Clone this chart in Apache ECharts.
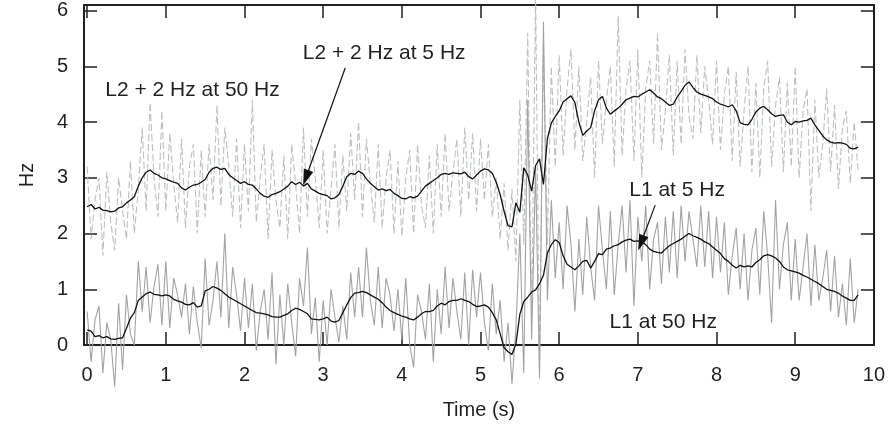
<!DOCTYPE html>
<html><head><meta charset="utf-8">
<script src="https://cdn.jsdelivr.net/npm/echarts@6/dist/echarts.min.js"></script>
<style>html,body{margin:0;padding:0;background:#fff}#c{width:888px;height:427px}</style>
</head><body><div id="c"></div>
<script>
const sampleStep = 0.05;
const xTicks = [0,1,2,3,4,5,6,7,8,9,10];
const yTicks = [0,1,2,3,4,5,6];

// L1 at 5 Hz (black, lower)
const L1_5Hz = [
0.27,0.25,0.15,0.17,0.13,0.15,0.11,0.10,0.12,0.13,
0.30,0.48,0.58,0.80,0.86,0.92,0.95,0.91,0.90,0.88,
0.90,0.88,0.82,0.79,0.77,0.73,0.72,0.76,0.68,0.70,
0.97,1.00,1.05,1.02,0.98,0.92,0.86,0.82,0.78,0.74,
0.70,0.66,0.62,0.58,0.57,0.56,0.54,0.51,0.50,0.50,
0.53,0.56,0.62,0.66,0.64,0.60,0.56,0.47,0.46,0.45,
0.47,0.50,0.43,0.41,0.44,0.58,0.72,0.85,0.93,0.94,
0.96,0.94,0.90,0.86,0.82,0.76,0.68,0.62,0.58,0.55,
0.52,0.50,0.47,0.45,0.50,0.56,0.60,0.60,0.62,0.70,
0.75,0.72,0.78,0.80,0.80,0.83,0.80,0.78,0.73,0.69,
0.70,0.72,0.68,0.58,0.45,0.20,-0.05,-0.12,-0.17,0.02,
0.55,0.78,0.86,0.95,0.99,1.10,1.25,1.65,1.80,1.89,
1.84,1.60,1.45,1.40,1.35,1.42,1.50,1.52,1.38,1.50,
1.64,1.62,1.72,1.74,1.78,1.80,1.85,1.88,1.90,1.86,
1.87,1.86,1.80,1.72,1.68,1.66,1.65,1.72,1.78,1.82,
1.86,1.90,1.95,2.00,1.96,1.93,1.90,1.85,1.82,1.76,
1.70,1.64,1.55,1.50,1.43,1.38,1.43,1.40,1.42,1.40,
1.48,1.53,1.60,1.62,1.60,1.56,1.50,1.40,1.35,1.33,
1.31,1.29,1.25,1.22,1.18,1.14,1.10,1.05,1.00,0.98,
0.96,0.93,0.88,0.84,0.80,0.80,0.90];

// L2 + 2 Hz at 5 Hz (black, upper)
const L2_5Hz = [
2.48,2.52,2.44,2.47,2.42,2.41,2.39,2.40,2.46,2.48,
2.55,2.60,2.66,2.85,3.00,3.10,3.14,3.08,3.05,3.00,
2.98,2.95,2.92,2.90,2.82,2.78,2.83,2.87,2.88,2.92,
2.97,3.10,3.17,3.19,3.15,3.17,3.06,3.00,2.95,2.90,
2.93,2.88,2.87,2.80,2.72,2.67,2.65,2.70,2.72,2.75,
2.80,2.85,2.93,2.88,2.92,2.85,2.90,2.80,2.76,2.72,
2.70,2.68,2.62,2.64,2.70,2.85,3.02,3.08,3.06,3.12,
3.08,2.98,2.90,2.84,2.78,2.80,2.77,2.79,2.72,2.68,
2.63,2.62,2.66,2.64,2.67,2.76,2.85,2.90,2.95,3.00,
3.06,3.08,3.06,3.09,3.08,3.07,3.10,3.02,2.98,3.05,
3.12,3.16,3.14,3.08,2.92,2.70,2.40,2.14,2.12,2.55,
2.38,3.18,3.05,2.76,3.22,3.34,2.88,3.70,3.98,4.10,
4.20,4.36,4.42,4.47,4.35,4.00,3.76,3.84,3.90,4.20,
4.40,4.46,4.25,4.14,4.20,4.25,4.32,4.40,4.43,4.46,
4.45,4.50,4.54,4.58,4.52,4.45,4.42,4.36,4.30,4.32,
4.45,4.55,4.66,4.72,4.62,4.54,4.50,4.48,4.45,4.42,
4.36,4.32,4.30,4.27,4.31,4.20,3.99,3.96,3.95,4.05,
4.18,4.25,4.28,4.22,4.15,4.10,4.12,4.13,4.00,3.95,
4.01,4.00,4.02,4.03,4.07,3.95,3.85,3.75,3.68,3.64,
3.62,3.63,3.62,3.60,3.53,3.52,3.55];

// L1 at 50 Hz (grey solid)
const L1_50Hz = [
0.6,-0.3,0.45,0.7,-0.5,0.4,0.1,-0.75,0.75,-0.45,
0.9,0.2,0.0,1.5,0.6,1.4,0.4,1.05,1.45,0.35,
1.5,0.3,1.2,0.9,0.5,1.1,0.2,1.05,0.4,-0.05,
1.55,0.35,0.8,1.5,0.5,2.0,0.3,1.4,0.9,0.25,
1.2,0.3,1.1,-0.1,0.6,1.0,0.1,1.3,-0.35,0.9,
0.0,1.1,0.4,-0.2,1.2,0.7,1.75,0.2,0.85,-0.3,
0.8,0.0,1.0,0.5,0.05,0.7,0.1,1.3,0.5,1.4,
0.5,1.75,0.8,0.35,1.4,0.3,1.2,0.9,0.25,1.0,
0.1,1.2,0.0,-0.4,0.9,0.6,0.1,1.1,-0.3,1.0,
0.2,1.4,0.3,1.2,0.6,0.1,1.3,0.0,1.35,0.5,
1.3,0.4,-0.1,1.1,0.2,0.8,-0.3,0.4,-0.7,0.3,
2.0,-0.5,4.4,0.1,3.2,-0.6,5.8,0.8,2.6,1.2,
2.2,1.0,2.5,1.8,0.6,1.9,0.9,2.3,1.4,0.8,
2.5,1.7,1.0,2.4,0.9,1.8,2.5,1.3,2.6,0.7,
2.3,1.5,2.5,1.0,1.9,2.2,1.1,2.3,1.3,2.4,
1.2,2.5,1.5,2.4,1.9,1.4,2.5,1.4,2.4,1.2,
2.3,1.3,2.2,0.9,1.6,2.1,1.0,2.0,0.8,1.7,
2.1,0.9,2.4,1.6,0.4,2.6,1.0,1.8,2.2,0.8,
1.9,0.8,1.4,2.0,0.7,1.8,0.8,1.2,1.7,0.6,
1.6,0.5,1.1,0.35,1.55,0.4,1.0];

// L2 + 2 Hz at 50 Hz (grey dashed)
const L2_50Hz = [
3.2,1.9,2.6,3.0,1.6,3.1,2.2,1.7,3.0,2.4,
1.9,3.3,2.0,2.8,3.9,2.4,4.35,3.0,2.3,4.2,
2.4,3.8,2.9,2.2,3.7,2.1,3.2,3.6,2.0,3.5,
2.3,3.6,2.6,4.3,2.5,3.9,3.2,2.3,3.7,2.1,
3.6,2.4,4.4,2.2,3.0,3.6,1.9,3.5,2.6,2.1,
3.4,1.9,3.6,2.9,2.0,3.9,2.3,3.7,3.0,2.1,
3.5,2.0,2.8,3.6,2.1,3.4,2.4,3.8,2.6,4.0,
2.3,3.7,2.9,2.2,3.6,2.1,3.0,3.5,2.0,3.3,
1.95,3.0,3.5,2.0,3.6,2.5,2.1,3.4,2.0,3.6,
2.3,3.8,2.4,3.1,3.7,2.3,3.9,2.6,3.8,2.4,
3.7,2.6,3.6,2.3,3.0,1.9,2.9,1.7,2.8,1.5,
4.4,1.8,5.6,0.5,6.3,-0.5,5.5,1.8,5.0,3.2,
5.2,3.4,4.6,5.3,3.5,5.0,3.3,4.0,4.8,3.0,
5.1,3.6,4.4,5.0,3.2,5.9,3.4,4.6,5.1,3.3,
5.3,3.0,4.6,5.1,3.6,5.6,3.5,4.2,5.2,3.4,
5.1,3.6,5.3,4.1,3.7,5.2,3.8,5.0,4.4,3.6,
5.1,3.5,4.5,5.0,3.3,4.9,3.2,4.2,5.0,3.1,
4.7,3.0,4.6,5.1,3.2,4.3,4.8,3.1,4.7,3.2,
5.0,3.0,4.2,4.6,2.4,4.4,3.0,3.6,4.6,3.1,
4.3,2.8,3.9,4.2,2.9,4.0,3.1];

// annotation texts with anchor in data coordinates (time s, Hz)
const annotations = [
  {text:'L2 + 2 Hz at 50 Hz', at:[0.23,4.58]},
  {text:'L2 + 2 Hz at 5 Hz', at:[2.74,5.24]},
  {text:'L1 at 5 Hz', at:[6.89,2.78]},
  {text:'L1 at 50 Hz', at:[6.64,0.41]}
];
const arrows = [
  {from:[3.28,4.97], to:[2.78,3.0]},
  {from:[7.22,2.51], to:[7.04,1.83]}
];

function pairs(vals){ return vals.map((v,i)=>[+(i*sampleStep).toFixed(2), v]); }

const FONT = 'Liberation Sans, Arial, Helvetica, sans-serif';
const AX = '#231f20';
const chart = echarts.init(document.getElementById('c'), null, {renderer:'canvas'});
const axisCommon = {
  axisLine:{show:true, onZero:false, lineStyle:{color:AX, width:2}},
  splitLine:{show:false},
};
chart.setOption({
  animation:false,
  backgroundColor:'#fff',
  grid:{left:84, right:6, top:5, bottom:82, containLabel:false},
  xAxis:[
    Object.assign({type:'value', position:'bottom', min:-0.04, max:10,
      name:'Time (s)', nameLocation:'middle', nameGap:55,
      nameTextStyle:{fontFamily:FONT, fontSize:20, color:AX},
      axisTick:{show:true, inside:true, length:13, customValues:xTicks, lineStyle:{color:AX, width:1.5}},
      axisLabel:{show:true, customValues:xTicks, fontFamily:FONT, fontSize:20, color:AX, margin:20}
    }, axisCommon),
    Object.assign({type:'value', position:'top', min:-0.04, max:10,
      axisTick:{show:true, inside:true, length:13, customValues:xTicks, lineStyle:{color:AX, width:1.5}},
      axisLabel:{show:false}
    }, axisCommon)
  ],
  yAxis:[
    Object.assign({type:'value', position:'left', min:0, max:6.1,
      name:'Hz', nameLocation:'middle', nameGap:47, nameRotate:90,
      nameTextStyle:{fontFamily:FONT, fontSize:20, color:AX},
      axisTick:{show:true, inside:true, length:13, customValues:yTicks, lineStyle:{color:AX, width:1.5}},
      axisLabel:{show:true, customValues:yTicks, fontFamily:FONT, fontSize:20, color:AX, margin:16}
    }, axisCommon),
    Object.assign({type:'value', position:'right', min:0, max:6.1,
      axisTick:{show:true, inside:true, length:13, customValues:yTicks, lineStyle:{color:AX, width:1.5}},
      axisLabel:{show:false}
    }, axisCommon)
  ],
  series:[
    {name:'L2 + 2 Hz at 50 Hz', type:'line', data:pairs(L2_50Hz), showSymbol:false, clip:false,
      lineStyle:{color:'#bcc0c4', width:1.1, type:[7,3]}, z:1},
    {name:'L1 at 50 Hz', type:'line', data:pairs(L1_50Hz), showSymbol:false, clip:false,
      lineStyle:{color:'#a3a3a5', width:1.1}, z:2},
    {name:'L2 + 2 Hz at 5 Hz', type:'line', data:pairs(L2_5Hz), showSymbol:false, clip:false,
      lineStyle:{color:'#111', width:1.3}, z:3},
    {name:'L1 at 5 Hz', type:'line', data:pairs(L1_5Hz), showSymbol:false, clip:false,
      lineStyle:{color:'#111', width:1.3}, z:4,
      markLine:{silent:true, symbol:['none','triangle'], symbolSize:[10,16],
        label:{show:false}, lineStyle:{color:'#111', width:1.2, type:'solid'},
        data: arrows.map(a=>[{coord:a.from},{coord:a.to}])}
    }
  ]
});
const g = annotations.map(a=>{
  const p = chart.convertToPixel({xAxisIndex:0, yAxisIndex:0}, a.at);
  return {type:'text', x:p[0], y:p[1], z:100,
    style:{text:a.text, fill:AX, font:'21px ' + FONT, textAlign:'left', textVerticalAlign:'middle'}};
});
chart.setOption({graphic:g});
</script></body></html>
